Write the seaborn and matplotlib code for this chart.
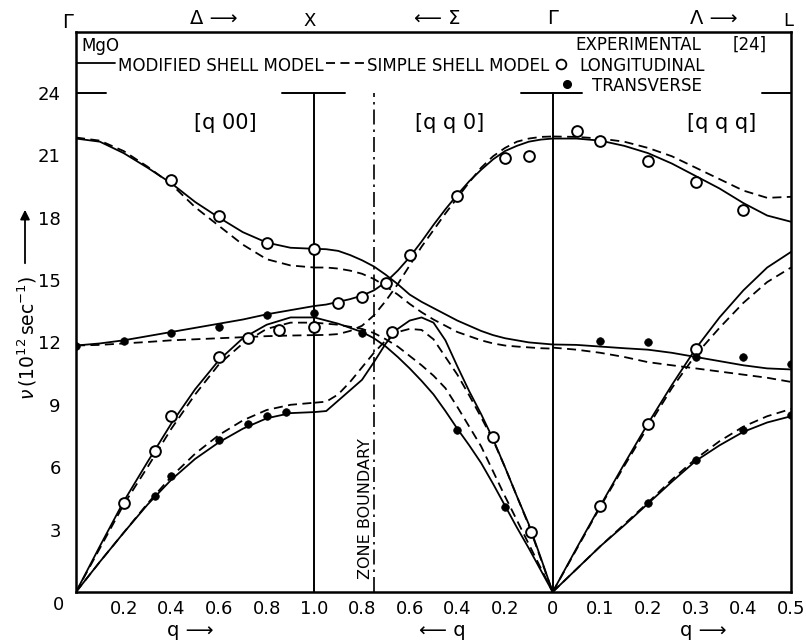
import numpy as np
import pandas as pd
import matplotlib
matplotlib.use("Agg")
import matplotlib.pyplot as plt
from matplotlib.lines import Line2D
from matplotlib.patches import FancyArrowPatch
import seaborn as sns

# ------------------------------------------------------------------ data
# wave-vector grids of the three branches
Q1 = [0.0, 0.1, 0.2, 0.3, 0.4, 0.5, 0.6, 0.7, 0.8, 0.9, 1.0]                 # [q00]  Gamma -> X
Q2 = [1.0, 0.95, 0.9, 0.85, 0.8, 0.75, 0.7, 0.65, 0.6, 0.55, 0.5,
      0.45, 0.4, 0.35, 0.3, 0.25, 0.2, 0.15, 0.1, 0.05, 0.0]                  # [qq0]  X -> Gamma
Q3 = [0.0, 0.05, 0.1, 0.15, 0.2, 0.25, 0.3, 0.35, 0.4, 0.45, 0.5]            # [qqq]  Gamma -> L

# modified shell model (solid)
S1_LO = [21.8, 21.65, 21.1, 20.4, 19.65, 18.75, 18.0, 17.3, 16.8, 16.55, 16.5]
S1_TO = [11.85, 11.95, 12.1, 12.3, 12.5, 12.7, 12.9, 13.1, 13.35, 13.55, 13.75]
S1_LA = [0.0, 2.2, 4.35, 6.25, 8.1, 9.75, 11.15, 12.2, 12.85, 13.2, 13.2]
S1_TA = [0.0, 1.45, 2.85, 4.2, 5.4, 6.4, 7.2, 7.85, 8.35, 8.6, 8.65]
S2_A = [16.5, 16.48, 16.4, 16.2, 15.95, 15.65, 15.25, 14.8, 14.3, 13.95, 13.65,
        13.35, 13.05, 12.8, 12.55, 12.35, 12.2, 12.1, 12.0, 11.95, 11.9]
S2_B = [13.75, 13.82, 13.95, 14.08, 14.25, 14.5, 14.9, 15.45, 16.1, 16.85, 17.65,
        18.4, 19.1, 19.75, 20.3, 20.8, 21.2, 21.45, 21.65, 21.75, 21.8]
S2_C = [13.2, 13.05, 12.9, 12.7, 12.5, 12.2, 11.8, 11.3, 10.75, 10.15, 9.5,
        8.7, 7.85, 7.05, 6.2, 5.2, 4.15, 3.1, 2.1, 1.05, 0.0]
S2_D = [8.65, 8.7, 9.2, 9.7, 10.2, 11.05, 11.95, 12.65, 13.05, 13.2, 12.95,
        12.1, 10.85, 9.65, 8.55, 7.35, 6.0, 4.6, 3.25, 1.65, 0.0]
S3_LO = [21.8, 21.8, 21.7, 21.45, 21.1, 20.6, 20.0, 19.4, 18.7, 18.1, 17.8]
S3_TO = [11.9, 11.88, 11.8, 11.72, 11.65, 11.5, 11.3, 11.1, 10.9, 10.75, 10.7]
S3_LA = [0.0, 2.1, 4.15, 6.15, 8.1, 9.95, 11.7, 13.2, 14.5, 15.6, 16.35]
S3_TA = [0.0, 1.1, 2.2, 3.2, 4.25, 5.3, 6.3, 7.05, 7.7, 8.15, 8.45]

# simple shell model (dashed)
D1_LO = [21.85, 21.7, 21.2, 20.45, 19.6, 18.5, 17.6, 16.7, 16.0, 15.7, 15.6]
D1_TO = [11.85, 11.88, 11.95, 12.02, 12.1, 12.15, 12.2, 12.25, 12.3, 12.33, 12.35]
D1_LA = [0.0, 2.1, 4.2, 6.0, 7.85, 9.5, 10.95, 11.95, 12.65, 12.95, 12.95]
D1_TA = [0.0, 1.45, 2.85, 4.25, 5.55, 6.65, 7.55, 8.25, 8.75, 9.0, 9.1]
D2_A = [15.6, 15.6, 15.55, 15.45, 15.3, 15.05, 14.7, 14.3, 13.85, 13.45, 13.1,
        12.8, 12.5, 12.3, 12.1, 11.95, 11.85, 11.8, 11.76, 11.72, 11.7]
D2_B = [12.35, 12.36, 12.4, 12.55, 12.8, 13.3, 14.0, 14.8, 15.7, 16.6, 17.4,
        18.2, 18.95, 19.7, 20.4, 20.95, 21.35, 21.65, 21.8, 21.88, 21.9]
D2_C = [12.95, 12.9, 12.85, 12.75, 12.65, 12.45, 12.15, 11.8, 11.35, 10.9, 10.4,
        9.8, 8.9, 7.95, 7.0, 5.8, 4.6, 3.45, 2.3, 1.15, 0.0]
D2_D = [9.1, 9.15, 9.5, 10.1, 10.8, 11.5, 12.1, 12.5, 12.65, 12.6, 12.15,
        11.3, 10.45, 9.45, 8.4, 7.3, 6.0, 4.6, 3.2, 1.6, 0.0]
D3_LO = [21.9, 21.88, 21.8, 21.65, 21.35, 20.95, 20.4, 19.85, 19.3, 18.95, 19.0]
D3_TO = [11.75, 11.65, 11.5, 11.3, 11.05, 10.9, 10.75, 10.6, 10.45, 10.3, 10.1]
D3_LA = [0.0, 2.05, 4.1, 6.05, 7.95, 9.8, 11.4, 12.7, 13.9, 14.9, 15.6]
D3_TA = [0.0, 1.1, 2.2, 3.25, 4.3, 5.4, 6.4, 7.25, 7.95, 8.45, 8.8]

# experimental points [24]
LONG_Q1 = [0.2, 0.33, 0.4, 0.6, 0.72, 0.85, 1.0, 0.4, 0.6, 0.8, 1.0]
LONG_NU1 = [4.3, 6.8, 8.45, 11.3, 12.2, 12.6, 12.75, 19.8, 18.1, 16.8, 16.5]
LONG_Q2 = [0.9, 0.8, 0.7, 0.6, 0.4, 0.2, 0.1, 0.675, 0.25, 0.09]
LONG_NU2 = [13.9, 14.2, 14.85, 16.2, 19.05, 20.85, 20.95, 12.5, 7.45, 2.9]
LONG_Q3 = [0.05, 0.1, 0.2, 0.3, 0.4, 0.1, 0.2, 0.3]
LONG_NU3 = [22.15, 21.7, 20.7, 19.7, 18.35, 4.15, 8.1, 11.7]
TRANS_Q1 = [0.0, 0.2, 0.4, 0.6, 0.8, 1.0, 0.33, 0.4, 0.6, 0.72, 0.8, 0.88]
TRANS_NU1 = [11.85, 12.05, 12.45, 12.75, 13.3, 13.4, 4.6, 5.6, 7.3, 8.1, 8.45, 8.65]
TRANS_Q2 = [0.8, 0.4, 0.2]
TRANS_NU2 = [12.45, 7.8, 4.1]
TRANS_Q3 = [0.1, 0.2, 0.3, 0.4, 0.5, 0.2, 0.3, 0.4, 0.5]
TRANS_NU3 = [12.05, 12.0, 11.3, 11.3, 10.95, 4.3, 6.35, 7.8, 8.5]

Y_TICKS = [3, 6, 9, 12, 15, 18, 21, 24]
XT_Q1 = [0.2, 0.4, 0.6, 0.8, 1.0]
XT_Q2 = [0.8, 0.6, 0.4, 0.2, 0.0]
XT_Q3 = [0.1, 0.2, 0.3, 0.4, 0.5]
XT_LAB1 = ["0.2", "0.4", "0.6", "0.8", "1.0"]
XT_LAB2 = ["0.8", "0.6", "0.4", "0.2", "0"]
XT_LAB3 = ["0.1", "0.2", "0.3", "0.4", "0.5"]
ZONE_Q = 0.75          # zone boundary along [qq0]
TOP_LEVEL = 24         # top of the symmetry lines


def xpos(seg, q):
    """Map reduced wave vector of a branch to the continuous horizontal axis."""
    q = np.asarray(q, dtype=float)
    if seg == 1:
        return q
    if seg == 2:
        return 2.0 - q
    return 2.0 + 2.0 * q


# ------------------------------------------------------------------ tables
curves = [
    ("S1_LO", 1, Q1, S1_LO, "modified"), ("S1_TO", 1, Q1, S1_TO, "modified"),
    ("S1_LA", 1, Q1, S1_LA, "modified"), ("S1_TA", 1, Q1, S1_TA, "modified"),
    ("S2_A", 2, Q2, S2_A, "modified"), ("S2_B", 2, Q2, S2_B, "modified"),
    ("S2_C", 2, Q2, S2_C, "modified"), ("S2_D", 2, Q2, S2_D, "modified"),
    ("S3_LO", 3, Q3, S3_LO, "modified"), ("S3_TO", 3, Q3, S3_TO, "modified"),
    ("S3_LA", 3, Q3, S3_LA, "modified"), ("S3_TA", 3, Q3, S3_TA, "modified"),
    ("D1_LO", 1, Q1, D1_LO, "simple"), ("D1_TO", 1, Q1, D1_TO, "simple"),
    ("D1_LA", 1, Q1, D1_LA, "simple"), ("D1_TA", 1, Q1, D1_TA, "simple"),
    ("D2_A", 2, Q2, D2_A, "simple"), ("D2_B", 2, Q2, D2_B, "simple"),
    ("D2_C", 2, Q2, D2_C, "simple"), ("D2_D", 2, Q2, D2_D, "simple"),
    ("D3_LO", 3, Q3, D3_LO, "simple"), ("D3_TO", 3, Q3, D3_TO, "simple"),
    ("D3_LA", 3, Q3, D3_LA, "simple"), ("D3_TA", 3, Q3, D3_TA, "simple"),
]
frames = []
for name, seg, q, nu, model in curves:
    frames.append(pd.DataFrame({"x": xpos(seg, q), "nu": nu, "curve": name, "model": model}))
lines = pd.concat(frames, ignore_index=True)

longi = pd.DataFrame({
    "x": np.concatenate([xpos(1, LONG_Q1), xpos(2, LONG_Q2), xpos(3, LONG_Q3)]),
    "nu": LONG_NU1 + LONG_NU2 + LONG_NU3})
trans = pd.DataFrame({
    "x": np.concatenate([xpos(1, TRANS_Q1), xpos(2, TRANS_Q2), xpos(3, TRANS_Q3)]),
    "nu": TRANS_NU1 + TRANS_NU2 + TRANS_NU3})

# ------------------------------------------------------------------ figure
sns.set_style("white")
plt.rcParams["font.family"] = ["DejaVu Sans"]
plt.rcParams["mathtext.fontset"] = "dejavusans"
for key in ("text.color", "axes.labelcolor", "xtick.color", "ytick.color",
            "xtick.labelcolor", "ytick.labelcolor"):
    plt.rcParams[key] = "black"

W, H = 806, 644
fig = plt.figure(figsize=(W / 100, H / 100), dpi=100)
AX_L, AX_R, AX_T, AX_B = 76, 791, 32, 592
PX_PER_UNIT = 20.8
ax = fig.add_axes([AX_L / W, 1 - AX_B / H, (AX_R - AX_L) / W, (AX_B - AX_T) / H])
ax.set_xlim(0, 3)
ax.set_ylim(0, (AX_B - AX_T) / PX_PER_UNIT)

sns.lineplot(data=lines, x="x", y="nu", units="curve", style="model",
             estimator=None, sort=False, color="black", linewidth=1.3,
             dashes={"modified": "", "simple": (5, 3)}, legend=False, ax=ax)
sns.scatterplot(data=longi, x="x", y="nu", marker="o", s=60, color="white",
                edgecolor="black", linewidth=1.4, zorder=5, legend=False, ax=ax)
sns.scatterplot(data=trans, x="x", y="nu", marker="o", s=30, color="black",
                edgecolor="black", linewidth=0.5, zorder=5, legend=False, ax=ax)

# symmetry-point lines and top bars
for xs in (xpos(1, 1.0), xpos(3, 0.0)):
    ax.plot([xs, xs], [0, TOP_LEVEL], color="black", lw=1.4, zorder=3)
zb = xpos(2, ZONE_Q)
ax.plot([zb, zb], [0, TOP_LEVEL], color="black", lw=1.2,
        linestyle=(0, (9, 3, 1.5, 3)), zorder=3)
for x0, x1 in ((0.0, 0.125), (0.865, 1.13), (1.867, 2.125), (2.88, 3.0)):
    ax.plot([x0, x1], [TOP_LEVEL, TOP_LEVEL], color="black", lw=1.4, zorder=3)

for s in ax.spines.values():
    s.set_linewidth(1.8)
    s.set_color("black")

xt = list(xpos(1, XT_Q1)) + list(xpos(2, XT_Q2)) + list(xpos(3, XT_Q3))
ax.set_xticks(xt)
ax.set_xticklabels(XT_LAB1 + XT_LAB2 + XT_LAB3)
ax.set_yticks(Y_TICKS)
ax.set_yticklabels([str(v) for v in Y_TICKS])
ax.tick_params(axis="x", direction="in", length=8, width=1.3, pad=6, labelsize=13,
               colors="black")
ax.tick_params(axis="y", direction="in", length=7, width=1.3, pad=11, labelsize=13,
               colors="black")
ax.set_xlabel("")
ax.set_ylabel("")


def ftext(px, py, s, **kw):
    kw.setdefault("ha", "center")
    kw.setdefault("va", "center")
    kw.setdefault("color", "black")
    return fig.text(px / W, 1 - py / H, s, **kw)


def fline(x0, x1, py, **kw):
    fig.add_artist(Line2D([x0 / W, x1 / W], [1 - py / H, 1 - py / H],
                          transform=fig.transFigure, color="black", **kw))


LEG = dict(fontsize=13.3, fontstretch="condensed")

# left "0" label of the q axis
ftext(59, 605, "0", fontsize=13)

# symmetry labels above the frame
ftext(68, 22, "Γ", fontsize=14)
ftext(214, 18, "Δ ⟶", fontsize=14)
ftext(310, 21, "X", fontsize=13)
ftext(437, 19, "⟵ Σ", fontsize=14)
ftext(553, 19, "Γ", fontsize=14)
ftext(714, 18, "Λ ⟶", fontsize=14)
ftext(788, 21, "L", fontsize=13)

# legend block
ftext(81, 46, "MgO", ha="left", **LEG)
fline(77, 115, 63, lw=1.3)
ftext(118, 66, "MODIFIED SHELL MODEL", ha="left", **LEG)
fline(326, 364, 63, lw=1.3, linestyle=(0, (5, 3)))
ftext(367, 66, "SIMPLE SHELL MODEL", ha="left", **LEG)
fig.add_artist(Line2D([561 / W], [1 - 64 / H], transform=fig.transFigure, marker="o",
                      markersize=7, markerfacecolor="white", markeredgecolor="black",
                      markeredgewidth=1.3, linestyle="none"))
ftext(705, 66, "LONGITUDINAL", ha="right", **LEG)
ftext(575, 45, "EXPERIMENTAL", ha="left", **LEG)
ftext(767, 45, "[24]", ha="right", **LEG)
fig.add_artist(Line2D([567 / W], [1 - 84 / H], transform=fig.transFigure, marker="o",
                      markersize=5.5, markerfacecolor="black", markeredgecolor="black",
                      linestyle="none"))
ftext(702, 86, "TRANSVERSE", ha="right", **LEG)

# branch directions
ftext(225, 123, "[q 00]", fontsize=15)
ftext(450, 123, "[q q 0]", fontsize=15)
ftext(722, 123, "[q q q]", fontsize=15)

# zone boundary label
ax.text(xpos(2, 0.785), 4.0, "ZONE BOUNDARY", rotation=90, ha="center", va="center",
        fontsize=11.5, color="black")

# y label with arrow
ftext(27, 338, r"$\nu\,(10^{12}\,\mathrm{sec}^{-1})$", rotation=90, fontsize=13.5)
fig.add_artist(FancyArrowPatch((25 / W, 1 - 266 / H), (25 / W, 1 - 207 / H),
                               transform=fig.transFigure, arrowstyle="-|>",
                               mutation_scale=14, color="black", lw=1.3))

# q labels below
ftext(190, 630, "q ⟶", fontsize=14)
ftext(442, 630, "⟵ q", fontsize=14)
ftext(703, 630, "q ⟶", fontsize=14)

fig.savefig("out.png", dpi=100)
